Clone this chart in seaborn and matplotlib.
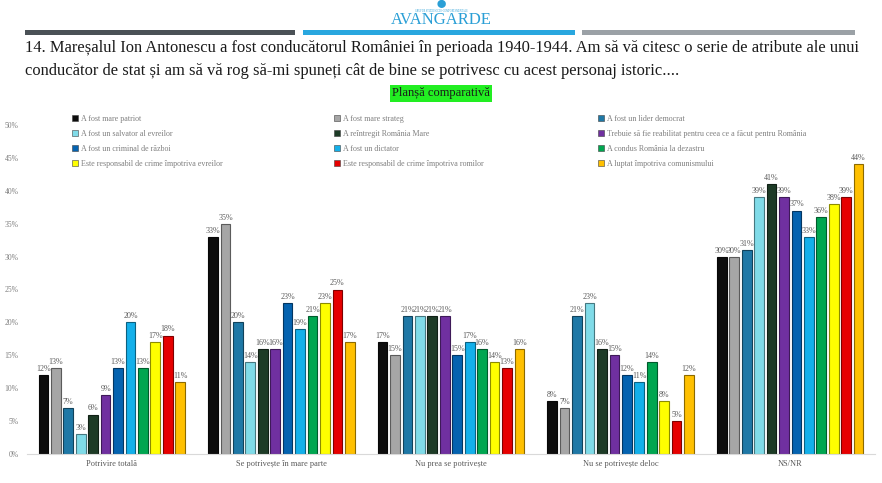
import numpy as np
import pandas as pd
import matplotlib.pyplot as plt
import seaborn as sns
from matplotlib.patches import Rectangle, Patch
from matplotlib.colors import to_rgb

categorii = ["Potrivire totală", "Se potrivește în mare parte", "Nu prea se potrivește",
             "Nu se potrivește deloc", "NS/NR"]
atribute = ["A fost mare patriot", "A fost mare strateg", "A fost un lider democrat",
            "A fost un salvator al evreilor", "A reîntregit România Mare",
            "Trebuie să fie reabilitat pentru ceea ce a făcut pentru România",
            "A fost un criminal de război", "A fost un dictator", "A condus România la dezastru",
            "Este responsabil de crime împotriva evreilor", "Este responsabil de crime împotriva romilor",
            "A luptat împotriva comunismului"]
culori = ["#0d0d0d", "#a6a6a6", "#1f78a6", "#80dbe8", "#1d3b26", "#7030a0",
          "#0563b0", "#14b0ea", "#00a650", "#ffff00", "#e60000", "#ffc000"]

potrivire_totala = [12, 13, 7, 3, 6, 9, 13, 20, 13, 17, 18, 11]
mare_parte = [33, 35, 20, 14, 16, 16, 23, 19, 21, 23, 25, 17]
nu_prea = [17, 15, 21, 21, 21, 21, 15, 17, 16, 14, 13, 16]
deloc = [8, 7, 21, 23, 16, 15, 12, 11, 14, 8, 5, 12]
ns_nr = [30, 30, 31, 39, 41, 39, 37, 33, 36, 38, 39, 44]

valori = [potrivire_totala, mare_parte, nu_prea, deloc, ns_nr]
rows = []
for cat, vals in zip(categorii, valori):
    for atr, v in zip(atribute, vals):
        rows.append({"categorie": cat, "atribut": atr, "valoare": v})
df = pd.DataFrame(rows)

sns.set_style("white")
plt.rcParams['font.family'] = ['Liberation Serif', 'DejaVu Serif']
gri = "#7f7f7f"

fig = plt.figure(figsize=(8.82, 4.83), dpi=100)
ax = fig.add_axes([27/882, 1 - 454/483, 848/882, 329/483])

sns.barplot(data=df, x="categorie", y="valoare", hue="atribut", order=categorii,
            hue_order=atribute, palette=culori, width=0.88, gap=0.22, legend=False,
            saturation=1, ax=ax)

for cont, col in zip(ax.containers, culori):
    r, g, b = to_rgb(col)
    for p in cont:
        p.set_edgecolor((r*0.55, g*0.55, b*0.55))
        p.set_linewidth(0.8)
    ax.bar_label(cont, labels=[f"{int(v)}%" for v in cont.datavalues], padding=1.5,
                 fontsize=5.8, color="#595959")

ax.set_ylim(0, 50)
ax.set_xlim(-0.5, 4.5)
ax.set_yticks(range(0, 51, 5))
ax.set_yticklabels([f"{t}%" for t in range(0, 51, 5)], fontsize=5.5, color=gri)
ax.tick_params(axis="x", labelsize=6, colors="#595959", length=0, pad=4)
ax.tick_params(axis="y", length=0, pad=6)
ax.set_xlabel("")
ax.set_ylabel("")
for s in ["left", "right", "top"]:
    ax.spines[s].set_visible(False)
ax.spines["bottom"].set_color("#d9d9d9")
ax.set_facecolor("none")

# legenda in trei coloane
x_leg = [68/882, 330/882, 594/882]
for k in range(3):
    idx = [k, k + 3, k + 6, k + 9]
    handles = [Patch(facecolor=culori[i], edgecolor="#404040", linewidth=0.4) for i in idx]
    leg = fig.legend(handles, [atribute[i] for i in idx], loc="upper left",
                     bbox_to_anchor=(x_leg[k], 1 - 111/483), frameon=False,
                     fontsize=5.8, handlelength=0.8, handleheight=0.8,
                     handletextpad=0.3, labelspacing=0.85, borderpad=0)
    for t in leg.get_texts():
        t.set_color(gri)

# antet
fig.patches.append(Rectangle((25/882, 1 - 35/483), 270/882, 5/483, transform=fig.transFigure,
                             facecolor="#4a5156", edgecolor="none"))
fig.patches.append(Rectangle((303/882, 1 - 35/483), 272/882, 5/483, transform=fig.transFigure,
                             facecolor="#29a7df", edgecolor="none"))
fig.patches.append(Rectangle((582/882, 1 - 35/483), 273/882, 5/483, transform=fig.transFigure,
                             facecolor="#9ba1a6", edgecolor="none"))
fig.text(441/882, 1 - 20/483, "AVANGARDE", ha="center", va="center", fontsize=12,
         color="#2a9fd6")
fig.text(441/882, 1 - 11/483, "GRUP DE STUDII SOCIO-COMPORTAMENTALE", ha="center",
         va="center", fontsize=1.8, color="#2a9fd6")
fig.text(441/882, 1 - 4/483, "⬤", ha="center", va="center", fontsize=6, color="#2a9fd6",
         family=["DejaVu Sans"])

fig.text(25/882, 1 - 48/483,
         "14. Mareșalul Ion Antonescu a fost conducătorul României în perioada 1940-1944. "
         "Am să vă citesc o serie de atribute ale unui",
         ha="left", va="center", fontsize=11.9, color="#1a1a1a")
fig.text(25/882, 1 - 71/483,
         "conducător de stat și am să vă rog să-mi spuneți cât de bine se potrivesc cu acest "
         "personaj istoric....",
         ha="left", va="center", fontsize=11.9, color="#1a1a1a")
fig.text(441/882, 1 - 93/483, "Planșă comparativă", ha="center", va="center", fontsize=9,
         color="#1a1a1a", bbox=dict(boxstyle="square,pad=0.2", facecolor="#22ee22",
                                     edgecolor="none"))

fig.savefig("out.png", dpi=100)
